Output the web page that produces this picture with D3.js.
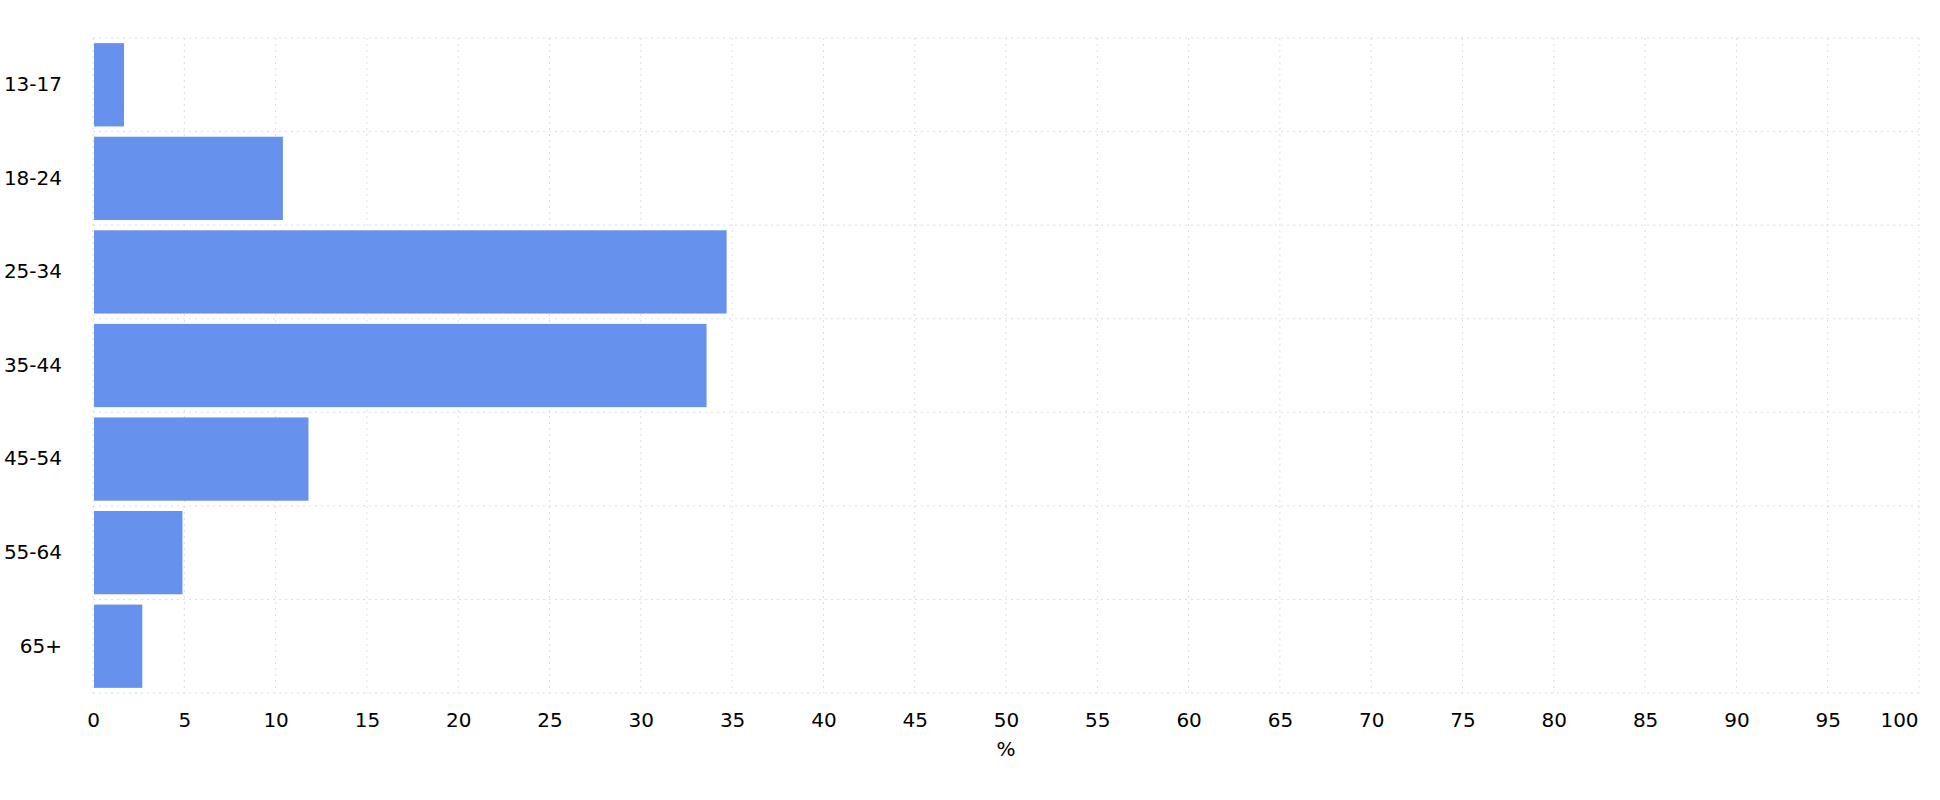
<!DOCTYPE html>
<html>
<head>
<meta charset="utf-8">
<script src="https://cdn.jsdelivr.net/npm/d3@7"></script>
<style>
  body { margin: 0; background: #fff; }
  text { font-family: "DejaVu Sans", sans-serif; }
</style>
</head>
<body>
<svg id="chart" width="1940" height="800"></svg>
<script>
const ageGroups = ["13-17", "18-24", "25-34", "35-44", "45-54", "55-64", "65+"];
const shares = [1.7, 10.4, 34.7, 33.6, 11.8, 4.9, 2.7];
const xTicks = d3.range(0, 101, 5);

const width = 1940, height = 800;
const margin = {top: 38, right: 21, bottom: 107, left: 93};

const svg = d3.select("#chart");

const x = d3.scaleLinear().domain([0, 100]).range([margin.left, width - margin.right]);
const y = d3.scaleBand().domain(ageGroups)
  .range([margin.top, height - margin.bottom])
  .paddingInner(0.11).paddingOuter(0.055);

// grid
const grid = svg.append("g").attr("stroke", "#ddd").attr("stroke-dasharray", "2,4");
grid.selectAll(".v").data(xTicks).enter().append("line")
  .attr("x1", d => x(d)).attr("x2", d => x(d))
  .attr("y1", margin.top).attr("y2", height - margin.bottom);
const step = y.step();
const bounds = d3.range(ageGroups.length + 1).map(i => margin.top + i * (height - margin.top - margin.bottom) / ageGroups.length);
grid.selectAll(".h").data(bounds).enter().append("line")
  .attr("x1", margin.left).attr("x2", width - margin.right)
  .attr("y1", d => d).attr("y2", d => d);

// bars
svg.append("g").selectAll("rect")
  .data(ageGroups)
  .enter().append("rect")
  .attr("x", x(0) + 1)
  .attr("y", d => y(d))
  .attr("width", (d, i) => x(shares[i]) - x(0) - 1)
  .attr("height", y.bandwidth())
  .attr("fill", "#6691ec");

// x axis
const xAxis = svg.append("g")
  .attr("transform", `translate(0,${height - margin.bottom})`)
  .call(d3.axisBottom(x).tickValues(xTicks).tickSize(0).tickPadding(20));
xAxis.select(".domain").remove();
xAxis.selectAll("text").attr("font-size", 20).attr("fill", "#000")
  .attr("font-family", "DejaVu Sans");
xAxis.selectAll(".tick").filter(d => d === 100).select("text").attr("dx", -20);

// y axis
const yAxis = svg.append("g")
  .attr("transform", `translate(${margin.left},0)`)
  .call(d3.axisLeft(y).tickSize(0).tickPadding(31));
yAxis.select(".domain").remove();
yAxis.selectAll("text").attr("font-size", 20).attr("fill", "#000")
  .attr("font-family", "DejaVu Sans");

// axis title
svg.append("text")
  .attr("x", x(50)).attr("y", 756)
  .attr("text-anchor", "middle").attr("font-size", 20)
  .text("%");
</script>
</body>
</html>
